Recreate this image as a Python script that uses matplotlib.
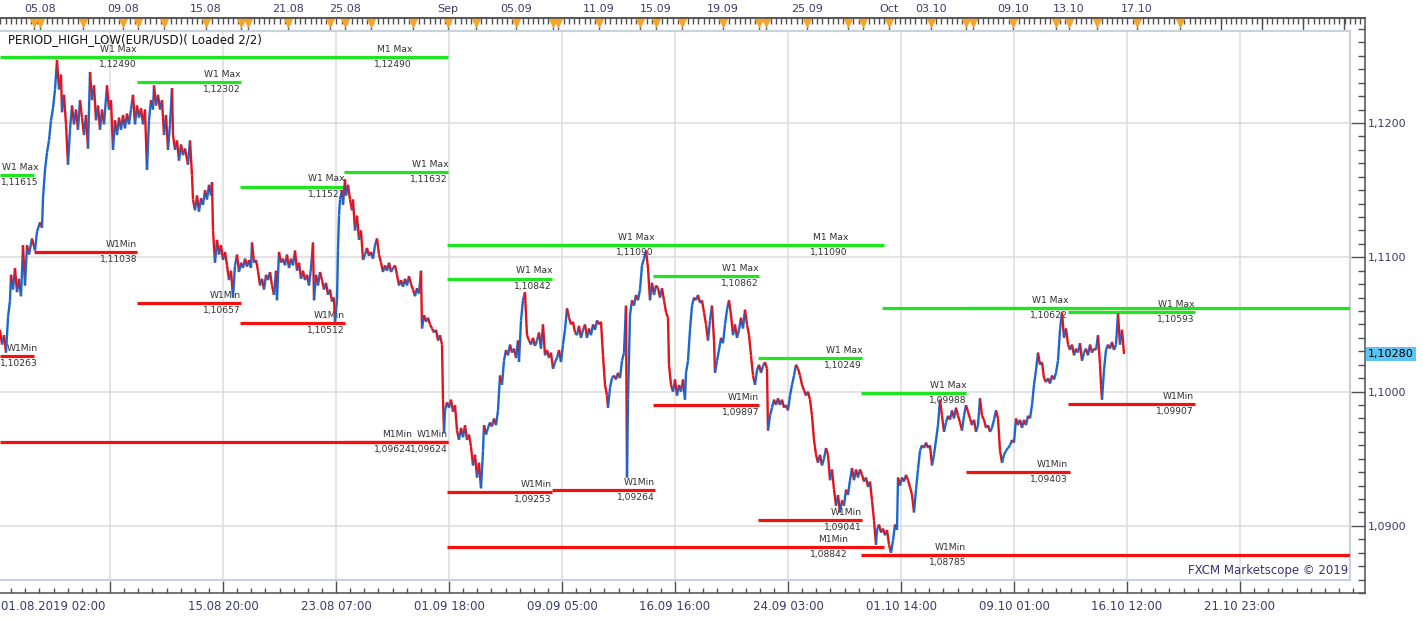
import numpy as np
import matplotlib.pyplot as plt
from matplotlib.collections import LineCollection
from matplotlib.ticker import AutoMinorLocator, MultipleLocator

# EUR/USD hourly closes, position on the (weekend-less) time axis
slot = [
    0, 2, 4, 6, 8, 10, 11, 13, 15, 17,
    19, 21, 23, 25, 27, 29, 32, 35, 37, 40,
    42, 43, 45, 47, 49, 51, 53, 55, 57, 59,
    61, 62, 64, 66, 68, 70, 72, 74, 76, 78,
    80, 82, 84, 86, 88, 90, 92, 94, 96, 98,
    100, 102, 104, 107, 109, 111, 113, 115, 117, 119,
    121, 123, 125, 127, 129, 131, 133, 135, 137, 139,
    141, 143, 145, 147, 149, 151, 153, 154, 156, 158,
    160, 162, 164, 166, 168, 170, 172, 173, 175, 177,
    179, 181, 183, 185, 188, 190, 192, 193, 195, 197,
    199, 201, 203, 205, 207, 209, 211, 212, 213, 215,
    217, 219, 221, 223, 225, 227, 229, 231, 233, 235,
    237, 239, 241, 243, 245, 247, 249, 251, 252, 254,
    256, 258, 260, 262, 264, 266, 268, 270, 272, 274,
    276, 277, 279, 281, 283, 285, 287, 289, 291, 293,
    295, 297, 299, 301, 303, 305, 307, 309, 311, 313,
    314, 316, 318, 320, 322, 324, 326, 328, 330, 332,
    334, 335, 337, 338, 339, 340, 342, 343, 345, 346,
    348, 350, 352, 353, 355, 357, 359, 361, 363, 365,
    367, 369, 371, 373, 375, 377, 379, 381, 383, 385,
    387, 389, 391, 393, 395, 397, 399, 401, 403, 405,
    407, 409, 411, 413, 415, 417, 419, 421, 422, 424,
    426, 428, 430, 432, 434, 436, 438, 440, 442, 443,
    444, 445, 447, 449, 451, 453, 455, 457, 459, 461,
    463, 465, 467, 469, 471, 473, 475, 477, 479, 481,
    483, 484, 486, 488, 490, 492, 494, 496, 498, 500,
    502, 504, 506, 508, 510, 512, 514, 516, 518, 519,
    521, 523, 525, 526, 527, 529, 531, 533, 535, 537,
    539, 541, 543, 545, 547, 549, 551, 553, 555, 557,
    559, 561, 563, 565, 567, 569, 571, 573, 575, 577,
    579, 581, 583, 585, 587, 589, 591, 593, 595, 597,
    599, 601, 603, 605, 607, 608, 610, 612, 614, 616,
    618, 620, 622, 624, 626, 627, 628, 630, 632, 634,
    636, 638, 640, 642, 644, 646, 648, 650, 652, 654,
    656, 658, 660, 662, 664, 666, 668, 669, 671, 673,
    675, 677, 679, 681, 683, 685, 686, 688, 690, 692,
    694, 696, 698, 700, 702, 704, 706, 708, 710, 712,
    714, 715, 717, 719, 721, 723, 725, 727, 729, 731,
    733, 735, 737, 739, 741, 743, 745, 747, 749, 751,
    753, 755, 757, 759, 761, 763, 765, 767, 768, 770,
    772, 774, 776, 778, 780, 782, 784, 786, 788, 790,
    792, 794, 796, 798, 800, 802, 804, 806, 808, 810,
    812, 814, 816, 818, 820, 822, 824, 826, 828, 830,
    832, 834, 836, 838, 840, 842, 844, 846, 848, 850,
    852, 854, 856, 858, 860, 862, 864, 866, 868, 870,
    872, 874, 876, 877, 879, 881, 883, 885, 887, 889,
    891, 893, 895, 897, 898, 900, 902, 904, 906, 908,
    910, 912, 914, 916, 918, 920, 922, 924, 926, 928,
    930, 932, 934, 936, 938, 940, 942, 944, 946, 948,
    950, 952, 954, 956, 958, 960, 962, 964, 966, 968,
    970, 972, 974, 976, 978, 980, 982, 984, 986, 988,
    990, 992, 994, 996, 998, 1000, 1002, 1004, 1006, 1008,
    1010, 1012, 1014, 1016, 1018, 1020, 1022, 1024, 1026, 1028,
    1030, 1032, 1034, 1036, 1038, 1040, 1042, 1044, 1046, 1048,
    1050, 1052, 1054, 1056, 1058, 1060, 1062, 1064, 1066, 1068,
    1070, 1072, 1074, 1076, 1078, 1080, 1082, 1084, 1086, 1088,
    1090, 1092, 1094, 1096, 1098, 1100, 1101, 1102, 1104, 1106,
    1108, 1110, 1112, 1114, 1116, 1118, 1120, 1122, 1124,
]
close = [
    1.1046, 1.1035, 1.1042, 1.1029, 1.1055, 1.1068, 1.1087, 1.1076, 1.1092, 1.1074,
    1.1084, 1.1071, 1.1109, 1.1079, 1.1109, 1.1102, 1.1114, 1.1105, 1.1119, 1.1126,
    1.1122, 1.1144, 1.1165, 1.1178, 1.1187, 1.1202, 1.1211, 1.1225, 1.1247, 1.1225,
    1.1236, 1.1208, 1.1221, 1.1199, 1.1169, 1.1195, 1.1213, 1.1199, 1.1210, 1.1195,
    1.1217, 1.1204, 1.1191, 1.1206, 1.1181, 1.1238, 1.1217, 1.1228, 1.1202, 1.1213,
    1.1195, 1.1210, 1.1199, 1.1228, 1.1210, 1.1217, 1.1180, 1.1202, 1.1191, 1.1204,
    1.1195, 1.1206, 1.1196, 1.1207, 1.1199, 1.1210, 1.1221, 1.1199, 1.1213, 1.1204,
    1.1211, 1.1199, 1.1210, 1.1165, 1.1202, 1.1217, 1.1210, 1.1228, 1.1213, 1.1221,
    1.1210, 1.1217, 1.1191, 1.1206, 1.1180, 1.1199, 1.1226, 1.1191, 1.1180, 1.1187,
    1.1172, 1.1184, 1.1176, 1.1181, 1.1169, 1.1187, 1.1161, 1.1143, 1.1135, 1.1146,
    1.1134, 1.1144, 1.1139, 1.1150, 1.1143, 1.1154, 1.1146, 1.1156, 1.1120, 1.1096,
    1.1113, 1.1102, 1.1109, 1.1098, 1.1104, 1.1094, 1.1083, 1.1090, 1.1070, 1.1094,
    1.1102, 1.1089, 1.1096, 1.1092, 1.1099, 1.1093, 1.1098, 1.1092, 1.1111, 1.1096,
    1.1098, 1.1090, 1.1079, 1.1084, 1.1076, 1.1087, 1.1083, 1.1089, 1.1079, 1.1072,
    1.1090, 1.1068, 1.1104, 1.1096, 1.1099, 1.1094, 1.1102, 1.1092, 1.1099, 1.1094,
    1.1105, 1.1090, 1.1096, 1.1084, 1.1090, 1.1083, 1.1087, 1.1079, 1.1092, 1.1111,
    1.1068, 1.1087, 1.1079, 1.1089, 1.1083, 1.1076, 1.1081, 1.1072, 1.1076, 1.1067,
    1.1070, 1.1052, 1.1068, 1.1105, 1.1131, 1.1143, 1.1150, 1.1139, 1.1158, 1.1146,
    1.1154, 1.1143, 1.1135, 1.1143, 1.1120, 1.1131, 1.1113, 1.1120, 1.1098, 1.1102,
    1.1107, 1.1101, 1.1104, 1.1099, 1.1109, 1.1114, 1.1102, 1.1096, 1.1089, 1.1094,
    1.1090, 1.1096, 1.1089, 1.1092, 1.1094, 1.1087, 1.1079, 1.1083, 1.1078, 1.1084,
    1.1079, 1.1086, 1.1080, 1.1076, 1.1071, 1.1077, 1.1073, 1.1090, 1.1047, 1.1057,
    1.1052, 1.1055, 1.1050, 1.1047, 1.1044, 1.1046, 1.1038, 1.1042, 1.1035, 1.0994,
    1.0969, 1.0986, 1.0992, 1.0988, 1.0994, 1.0985, 1.0990, 1.0971, 1.0964, 1.0973,
    1.0966, 1.0975, 1.0964, 1.0968, 1.0959, 1.0945, 1.0953, 1.0936, 1.0947, 1.0928,
    1.0956, 1.0975, 1.0968, 1.0973, 1.0977, 1.0974, 1.0980, 1.0975, 1.0986, 1.1012,
    1.1005, 1.1023, 1.1031, 1.1027, 1.1035, 1.1029, 1.1032, 1.1025, 1.1038, 1.1022,
    1.1053, 1.1068, 1.1074, 1.1057, 1.1042, 1.1038, 1.1035, 1.1040, 1.1034, 1.1038,
    1.1044, 1.1032, 1.1050, 1.1027, 1.1031, 1.1025, 1.1029, 1.1017, 1.1022, 1.1025,
    1.1031, 1.1022, 1.1035, 1.1046, 1.1062, 1.1055, 1.1050, 1.1052, 1.1044, 1.1042,
    1.1049, 1.1040, 1.1046, 1.1050, 1.1040, 1.1047, 1.1042, 1.1050, 1.1046, 1.1053,
    1.1050, 1.1052, 1.1027, 1.1005, 1.0997, 1.0988, 1.1003, 1.1010, 1.1012, 1.1009,
    1.1014, 1.1010, 1.1023, 1.1029, 1.1064, 1.0936, 1.0994, 1.1057, 1.1068, 1.1064,
    1.1072, 1.1068, 1.1076, 1.1094, 1.1099, 1.1105, 1.1092, 1.1068, 1.1081, 1.1072,
    1.1079, 1.1077, 1.1070, 1.1077, 1.1068, 1.1059, 1.1055, 1.1020, 1.1005, 1.1000,
    1.1009, 1.0997, 1.1005, 1.1000, 1.1009, 1.0994, 1.1014, 1.1023, 1.1046, 1.1064,
    1.1070, 1.1068, 1.1072, 1.1066, 1.1068, 1.1059, 1.1050, 1.1038, 1.1053, 1.1064,
    1.1038, 1.1014, 1.1023, 1.1031, 1.1040, 1.1036, 1.1050, 1.1061, 1.1068, 1.1057,
    1.1042, 1.1050, 1.1040, 1.1046, 1.1055, 1.1047, 1.1061, 1.1050, 1.1042, 1.1027,
    1.1012, 1.1005, 1.1016, 1.1020, 1.1014, 1.1019, 1.1022, 1.1017, 1.0971, 1.0982,
    1.0988, 1.0994, 1.0990, 1.0995, 1.0990, 1.0994, 1.0988, 1.0990, 1.0986, 1.0997,
    1.1005, 1.1012, 1.1020, 1.1017, 1.1012, 1.1005, 1.1001, 1.0997, 1.1000, 1.0994,
    1.0982, 1.0964, 1.0953, 1.0947, 1.0953, 1.0945, 1.0950, 1.0958, 1.0953, 1.0934,
    1.0942, 1.0927, 1.0915, 1.0923, 1.0910, 1.0919, 1.0915, 1.0927, 1.0923, 1.0934,
    1.0943, 1.0934, 1.0942, 1.0936, 1.0942, 1.0938, 1.0933, 1.0936, 1.0929, 1.0933,
    1.0919, 1.0904, 1.0886, 1.0897, 1.0901, 1.0895, 1.0898, 1.0893, 1.0897, 1.0886,
    1.0880, 1.0889, 1.0901, 1.0897, 1.0936, 1.0930, 1.0936, 1.0933, 1.0938, 1.0934,
    1.0929, 1.0923, 1.0910, 1.0927, 1.0942, 1.0956, 1.0960, 1.0958, 1.0962, 1.0958,
    1.0960, 1.0945, 1.0953, 1.0964, 1.0975, 1.0994, 1.0982, 1.0970, 1.0977, 1.0982,
    1.0979, 1.0986, 1.0980, 1.0988, 1.0982, 1.0977, 1.0971, 1.0982, 1.0990, 1.0985,
    1.0980, 1.0975, 1.0979, 1.0970, 1.0975, 1.0995, 1.0982, 1.0979, 1.0973, 1.0975,
    1.0970, 1.0973, 1.0979, 1.0986, 1.0980, 1.0956, 1.0947, 1.0953, 1.0956, 1.0958,
    1.0960, 1.0964, 1.0962, 1.0980, 1.0975, 1.0979, 1.0973, 1.0979, 1.0975, 1.0982,
    1.0980, 1.0990, 1.1005, 1.1016, 1.1029, 1.1020, 1.1022, 1.1010, 1.1007, 1.1010,
    1.1006, 1.1012, 1.1009, 1.1014, 1.1023, 1.1046, 1.1059, 1.1040, 1.1047, 1.1035,
    1.1031, 1.1035, 1.1027, 1.1032, 1.1029, 1.1036, 1.1023, 1.1029, 1.1032, 1.1027,
    1.1035, 1.1029, 1.1032, 1.1031, 1.1042, 1.1020, 1.1005, 1.0994, 1.1016, 1.1031,
    1.1035, 1.1032, 1.1037, 1.1031, 1.1035, 1.1058, 1.1035, 1.1046, 1.1028,
]

# weekly / monthly highs
max_name = ['W1 Max', 'W1 Max', 'M1 Max', 'W1 Max', 'W1 Max', 'W1 Max', 'W1 Max', 'W1 Max',
            'M1 Max', 'W1 Max', 'W1 Max', 'W1 Max', 'W1 Max', 'M1 Max', 'W1 Max']
max_value = [1.11615, 1.12490, 1.12490, 1.12302, 1.11527, 1.11632, 1.10842, 1.11090,
             1.11090, 1.10862, 1.10249, 1.09988, 1.10622, 1.10622, 1.10593]
max_from = [0, 34, 0, 137, 240, 344, 447, 552, 447, 653, 758, 861, 966, 882, 1068]
max_to = [34, 137, 448, 241, 345, 448, 552, 655, 884, 759, 862, 966, 1070, 1400, 1195]
max_label_at = [38, 137, 412, 241, 345, 448, 552, 654, 848, 759, 862, 966, 1068, 1400, 1194]

# weekly / monthly lows
min_name = ['W1Min', 'W1Min', 'W1Min', 'W1Min', 'M1Min', 'W1Min', 'W1Min', 'W1Min',
            'M1Min', 'W1Min', 'W1Min', 'W1Min', 'M1Min', 'W1Min', 'W1Min']
min_value = [1.10263, 1.11038, 1.10657, 1.10512, 1.09624, 1.09624, 1.09253, 1.09264,
             1.08842, 1.09897, 1.09041, 1.08785, 1.08785, 1.09403, 1.09907]
min_from = [0, 34, 137, 240, 0, 344, 447, 552, 447, 653, 758, 861, 882, 966, 1068]
min_to = [34, 137, 241, 345, 448, 448, 552, 655, 884, 759, 862, 966, 1400, 1070, 1195]
min_label_at = [38, 137, 241, 345, 412, 448, 552, 655, 848, 759, 862, 966, 1400, 1068, 1194]

# axes
price_ticks = [1.09, 1.10, 1.11, 1.12]
time_ticks = [110, 223, 336, 449, 562, 675, 788, 901, 1014, 1127, 1240]
time_labels = ['', '15.08 20:00', '23.08 07:00', '01.09 18:00', '09.09 05:00', '16.09 16:00',
               '24.09 03:00', '01.10 14:00', '09.10 01:00', '16.10 12:00', '21.10 23:00']
first_time_label = '01.08.2019 02:00'

# economic calendar events (orange markers on the top scale)
event_slots = [34, 40, 83, 123, 138, 164, 206, 241, 248, 288, 330, 345, 371, 413, 448,
               476, 516, 553, 558, 599, 640, 656, 682, 723, 759, 766, 807, 848, 863, 889,
               931, 966, 973, 1013, 1056, 1069, 1097, 1137, 1180]
day_slots = [1221, 1262, 1303, 1344]
date_labels = {40: '05.08', 123: '09.08', 206: '15.08', 288: '21.08', 345: '25.08',
               448: 'Sep', 516: '05.09', 599: '11.09', 656: '15.09', 723: '19.09',
               807: '25.09', 889: 'Oct', 931: '03.10', 1013: '09.10', 1069: '13.10',
               1137: '17.10'}

UP, DOWN = '#1a68cc', '#e3121b'
GREEN, RED = '#1ee61e', '#f21010'
AXIS, TXT = '#505050', '#3b3b6b'

W, H = 1423, 619
fig = plt.figure(figsize=(W / 100, H / 100), dpi=100)


def rect(x0, y0, x1, y1):
    return [x0 / W, 1 - y1 / H, (x1 - x0) / W, (y1 - y0) / H]


# outer scales (top dates, right prices, bottom times)
frame = fig.add_axes(rect(0, 18, 1365, 593))
frame.set_xlim(0, 1365)
frame.set_ylim(1.08500, 1.12782)
frame.spines['left'].set_visible(False)
for s in ['top', 'right', 'bottom']:
    frame.spines[s].set_color(AXIS)
    frame.spines[s].set_linewidth(1.1)

frame.set_xticks(time_ticks, labels=time_labels)
frame.xaxis.set_minor_locator(AutoMinorLocator(8))
frame.tick_params(axis='x', which='major', direction='in', length=9, width=1,
                  color=AXIS, labelcolor=TXT, labelsize=8.5, pad=5)
frame.tick_params(axis='x', which='minor', direction='in', length=3.5, width=1, color=AXIS)
frame.annotate(first_time_label, xy=(0, 0), xycoords='axes fraction', xytext=(1, -5),
               textcoords='offset points', ha='left', va='top', fontsize=8.5, color=TXT)

frame.yaxis.tick_right()
frame.set_yticks(price_ticks, labels=[f'{p:.4f}'.replace('.', ',') for p in price_ticks])
frame.yaxis.set_minor_locator(MultipleLocator(0.001))
frame.tick_params(axis='y', which='major', direction='in', length=10, width=1,
                  color=AXIS, labelcolor=TXT, labelsize=8, pad=2)
frame.tick_params(axis='y', which='minor', direction='in', length=5, width=1, color=AXIS)

top = frame.secondary_xaxis('top')
top_major = sorted(event_slots + day_slots)
top.set_ticks(top_major, labels=[date_labels.get(s, '') for s in top_major])
top.xaxis.set_minor_locator(MultipleLocator(5.17, offset=0.4))
top.tick_params(which='major', direction='in', length=9, width=1, color=AXIS,
                labelcolor=TXT, labelsize=8, pad=3)
top.tick_params(which='minor', direction='in', length=4.3, width=1, color=AXIS)
top.spines['top'].set_color(AXIS)
top.spines['top'].set_linewidth(1.1)
frame.plot(event_slots, [0.9905] * len(event_slots), ls='none', marker='v', ms=7,
           color='#f7a427', mec='none', transform=frame.get_xaxis_transform(),
           clip_on=False, zorder=1)

last = close[-1]
frame.annotate(f'{last:.5f}'.replace('.', ','), xy=(1, last),
               xycoords=frame.get_yaxis_transform(), xytext=(2, 0),
               textcoords='offset points', ha='left', va='center', fontsize=8,
               color='black', annotation_clip=False,
               bbox=dict(boxstyle='square,pad=0.18', fc='#5cc4f6', ec='none'))

# chart panel
ax = fig.add_axes(rect(0, 31, 1350, 580))
ax.set_xlim(0, 1350)
ax.set_ylim(1.08597, 1.12685)
ax.set_xticks(time_ticks)
ax.set_yticks(price_ticks)
ax.tick_params(length=0, labelbottom=False, labelleft=False)
ax.grid(color='#dddddd', lw=1.1)
ax.set_axisbelow(True)
ax.spines['left'].set_visible(False)
for s in ['top', 'right', 'bottom']:
    ax.spines[s].set_color('#c8d2dd')
    ax.spines[s].set_linewidth(1.6)

for names, values, x0s, x1s, xls, col in [
        (max_name, max_value, max_from, max_to, max_label_at, GREEN),
        (min_name, min_value, min_from, min_to, min_label_at, RED)]:
    ax.hlines(values, x0s, x1s, colors=col, lw=2.3, zorder=3)
    for name, v, xl in zip(names, values, xls):
        ax.annotate(name, xy=(xl, v), xytext=(0, 2.2), textcoords='offset points',
                    ha='right', va='bottom', fontsize=6.6, color='#303030',
                    clip_on=True, zorder=2)
        ax.annotate(f'{v:.5f}'.replace('.', ','), xy=(xl, v), xytext=(0, -2.2),
                    textcoords='offset points', ha='right', va='top', fontsize=6.6,
                    color='#303030', clip_on=True, zorder=2)

pts = np.column_stack([slot, close])
segs = np.stack([pts[:-1], pts[1:]], axis=1)
seg_cols = np.where(np.diff(close) >= 0, UP, DOWN)
ax.add_collection(LineCollection(segs, colors=seg_cols, linewidths=1.7, zorder=4))

ax.text(8, 0.984, 'PERIOD_HIGH_LOW(EUR/USD)( Loaded 2/2)', transform=ax.get_xaxis_transform(),
        va='center', fontsize=8.5, color='#111111')
ax.text(0.9985, 0.006, 'FXCM Marketscope \u00a9 2019', transform=ax.transAxes,
        ha='right', va='bottom', fontsize=8.5, color='#3d2f72')

fig.savefig('out.png', dpi=100)
